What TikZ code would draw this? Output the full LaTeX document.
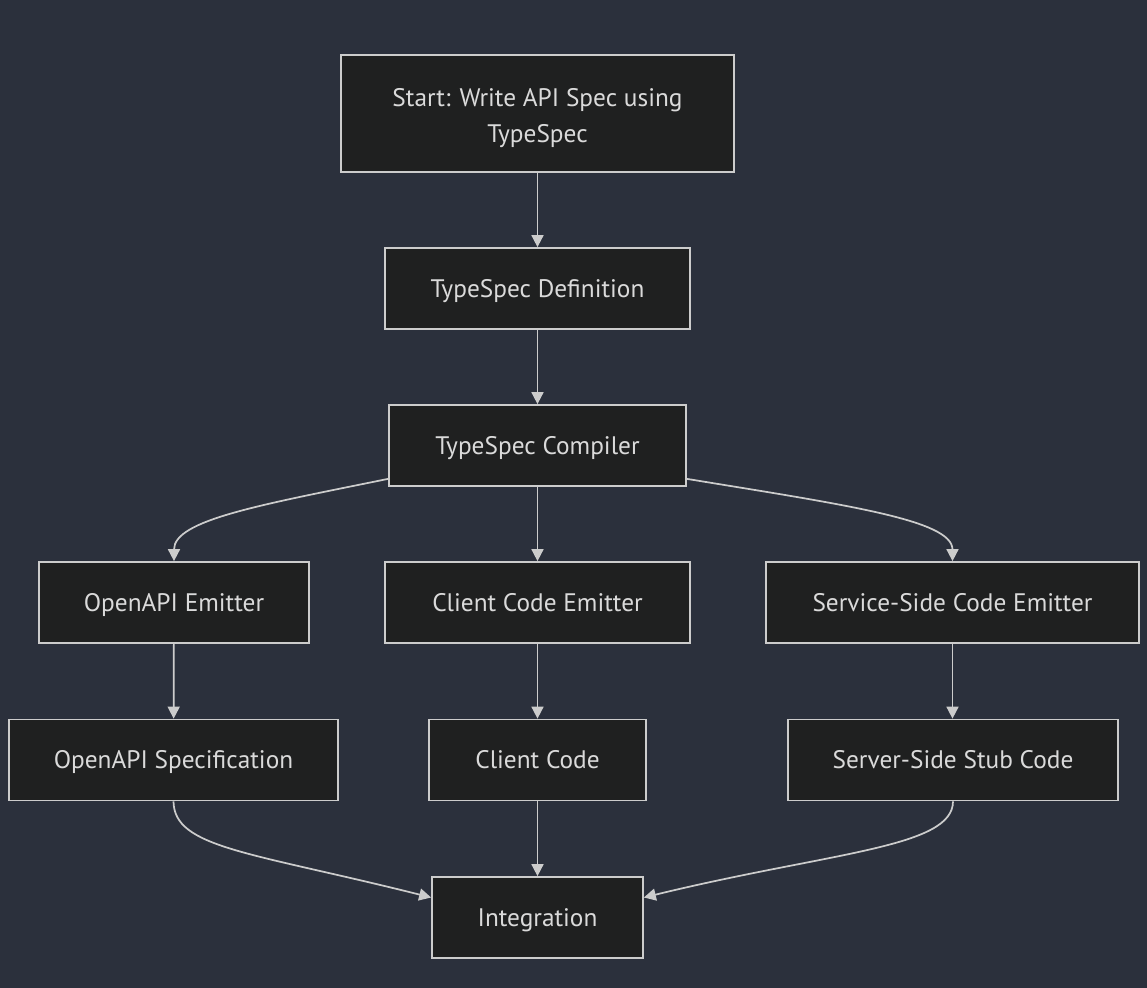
\documentclass[tikz,border=0pt]{standalone}
\usepackage{fontspec}
\setmainfont{PT Sans}
\usetikzlibrary{arrows.meta}
\definecolor{bgc}{RGB}{43,48,60}
\definecolor{boxfill}{RGB}{31,32,32}
\definecolor{linec}{RGB}{204,204,204}
\definecolor{textc}{RGB}{218,218,218}
\newlength\pxu
\setlength\pxu{0.75pt}
\begin{document}
\begin{tikzpicture}[x=0.75pt,y=-0.75pt,
  basebox/.style={draw=linec, fill=boxfill, line width=1.3pt, inner sep=0pt,
    text=textc, font=\fontsize{19}{27}\selectfont, align=center, minimum height=81\pxu},
  box/.style={basebox, text height=17.5pt, text depth=4.5pt},
  conn/.style={draw=linec, line width=1.3pt, -{Triangle[length=9pt,width=9pt]}}]
\fill[bgc] (0,0) rectangle (1147,988);
\useasboundingbox (0,0) rectangle (1147,988);

\node[basebox, minimum width=393\pxu, minimum height=117\pxu] (start) at (537.5,113.5) {\rule{0pt}{20pt}Start: Write API Spec using\\TypeSpec};
\node[box, minimum width=305\pxu] (def) at (537.5,288.5) {TypeSpec Definition};
\node[box, minimum width=297\pxu] (comp) at (537.5,445.5) {TypeSpec Compiler};
\node[box, minimum width=270\pxu] (oae) at (174,602.5) {OpenAPI Emitter};
\node[box, minimum width=305\pxu] (cce) at (537.5,602.5) {Client Code Emitter};
\node[box, minimum width=373\pxu] (sse) at (952.5,602.5) {Service-Side Code Emitter};
\node[box, minimum width=329\pxu] (oas) at (173.5,760) {OpenAPI Specification};
\node[box, minimum width=217\pxu] (cc) at (537.5,760) {Client Code};
\node[box, minimum width=330\pxu] (ssc) at (953,760) {Server-Side Stub Code};
\node[box, minimum width=211\pxu] (integ) at (537.5,917.5) {Integration};

\draw[conn] (start) -- (def);
\draw[conn] (def) -- (comp);
\draw[conn] (comp) -- (cce);
\draw[conn] (cce) -- (cc);
\draw[conn] (cc) -- (integ);
\draw[conn] (oae) -- (oas);
\draw[conn] (sse.south) -- (sse.south |- ssc.north);

\draw[conn] (comp.south west) ++(0,-8) .. controls (260,505) and (174,520) .. (oae.north);
\draw[conn] (comp.south east) ++(0,-8) .. controls (846,505) and (952.5,520) .. (sse.north);

\draw[conn] (oas.south) .. controls (174,848) and (250,852) .. ([yshift=20\pxu]integ.west);
\draw[conn] (ssc.south) .. controls (953,848) and (830,852) .. ([yshift=20\pxu]integ.east);
\end{tikzpicture}
\end{document}
